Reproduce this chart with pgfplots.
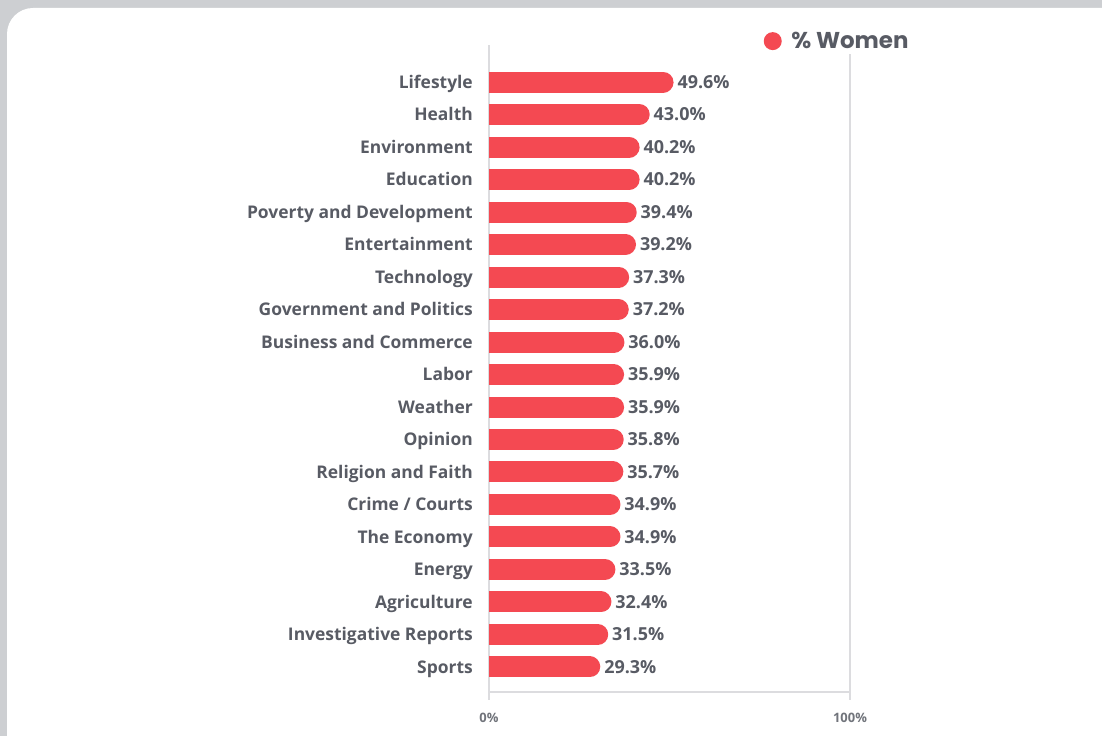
\documentclass[border=0pt]{standalone}
\usepackage{pgfplots}
\pgfplotsset{compat=1.18}
\usepackage{fontspec}
\setmainfont{Open Sans}
\newfontfamily\legfont{Poppins}
\definecolor{barred}{HTML}{F44952}
\definecolor{txtgray}{HTML}{585B64}
\definecolor{linegray}{HTML}{DCDCDF}
\definecolor{framegray}{HTML}{CDCFD2}

\begin{document}
\begin{tikzpicture}
\useasboundingbox (0,0) rectangle (1102bp,736bp);
% card on grey backdrop
\fill[framegray] (0,0) rectangle (1102bp,736bp);
\fill[white, rounded corners=26bp] (7bp,-40bp) rectangle (1140bp,728bp);
\begin{axis}[
  at={(489bp,44bp)}, anchor=south west,
  scale only axis, width=361bp, height=647bp,
  xmin=0, xmax=100, ymin=-0.77, ymax=19.14,
  axis x line*=bottom, axis y line*=left,
  axis line style={linegray, line width=1.3bp, -},
  xtick={0,100}, xticklabels={0\%,100\%},
  xmajorgrids, grid style={linegray, line width=1.3bp},
  x tick style={linegray, line width=1.3bp}, tick align=outside, major tick length=8bp,
  ytick={0,...,18}, y tick style={draw=none},
  yticklabels={Sports, Investigative Reports, Agriculture, Energy, The Economy,
    Crime / Courts, Religion and Faith, Opinion, Weather, Labor,
    Business and Commerce, Government and Politics, Technology, Entertainment,
    Poverty and Development, Education, Environment, Health, Lifestyle},
  yticklabel style={font=\fontsize{17.5}{20}\selectfont\bfseries, text=txtgray,
    inner sep=0pt, text height=12.5bp, text depth=0pt, xshift=-8bp},
  xticklabel style={font=\fontsize{13}{15}\selectfont\bfseries, text=txtgray!85,
    inner sep=0pt, yshift=-13bp},
  legend style={at={(0.755,1.006)}, anchor=west, draw=none, fill=white,
    font=\legfont\fontsize{23}{26}\selectfont\bfseries, text=txtgray, inner sep=2bp},
  legend image code/.code={\path[fill=barred, draw=none] (0bp,0bp) circle (9bp);
    \path (6bp,0bp);},
  /pgf/number format/assume math mode=true,
]
\addplot[xcomb, barred, line width=21bp, line cap=round, xshift=-5bp,
  point meta=x, nodes near coords={\pgfmathprintnumber[fixed,fixed zerofill,precision=1]{\pgfplotspointmeta}\%},
  nodes near coords align={horizontal},
  every node near coord/.append style={font=\fontsize{18}{20}\selectfont\bfseries,
    text=txtgray, inner sep=0pt, text height=12.5bp, text depth=0pt, xshift=4bp}]
coordinates {
(29.3,0) (31.5,1) (32.4,2) (33.5,3) (34.9,4) (34.9,5) (35.7,6) (35.8,7)
(35.9,8) (35.9,9) (36.0,10) (37.2,11) (37.3,12) (39.2,13) (39.4,14)
(40.2,15) (40.2,16) (43.0,17) (49.6,18)
};
\addlegendentry{\% Women}
\end{axis}
\end{tikzpicture}
\end{document}
